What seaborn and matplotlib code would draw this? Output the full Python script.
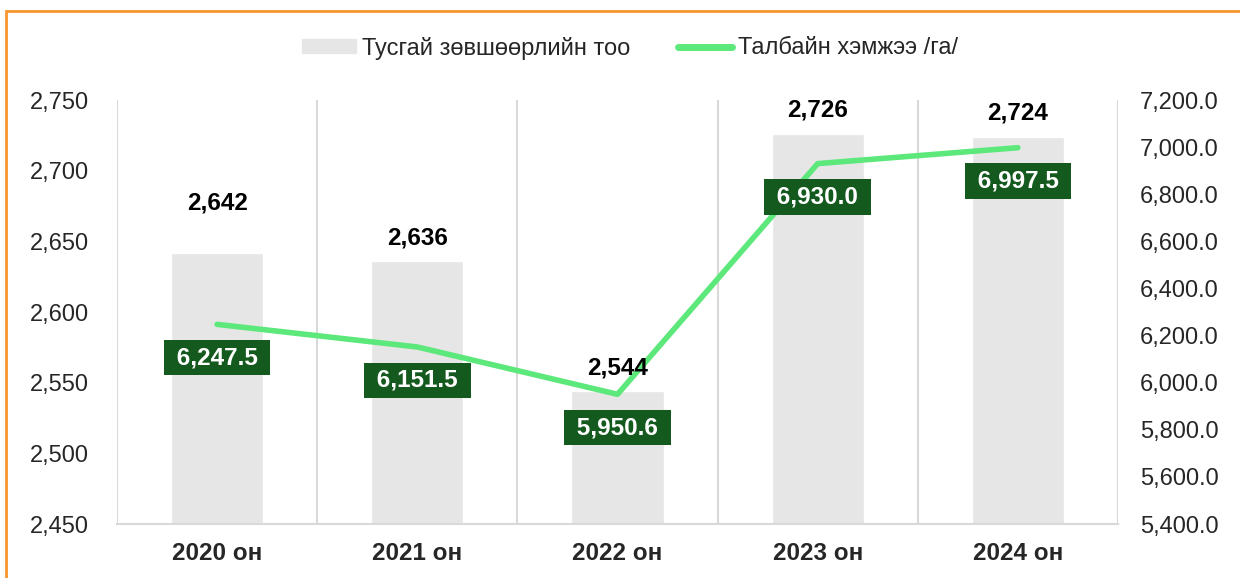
import matplotlib
matplotlib.use("Agg")
import matplotlib.pyplot as plt
import matplotlib.patches as mpatches
from matplotlib.lines import Line2D
from matplotlib.ticker import FuncFormatter
import seaborn as sns
import numpy as np
import pandas as pd

years = ["2020 он", "2021 он", "2022 он", "2023 он", "2024 он"]
permits = [2642, 2636, 2544, 2726, 2724]
area = [6247.5, 6151.5, 5950.6, 6930.0, 6997.5]
bar_name = "Тусгай зөвшөөрлийн тоо"
line_name = "Талбайн хэмжээ /га/"

sns.set_theme(style="white")
plt.rcParams['font.family'] = ['Liberation Sans', 'DejaVu Sans']

FS = 17
FSB = 17.5
bar_color = "#e6e6e6"
line_color = "#5ce87a"
box_color = "#145a1e"
grid_color = "#d9d9d9"

fig = plt.figure(figsize=(12.4, 5.78), dpi=100)
ax = fig.add_axes([117/1240, 1-524/578, (1118-117)/1240, (524-100)/578])

df = pd.DataFrame({"year": years, "permits": permits, "area": area, "pos": np.arange(len(years))})
sns.barplot(data=df, x="year", y="permits", color=bar_color, width=0.46, ax=ax, saturation=1)
ax.set_ylim(2450, 2750)
ax.set_yticks(np.arange(2450, 2751, 50))
ax.yaxis.set_major_formatter(FuncFormatter(lambda v, p: f"{v:,.0f}"))
ax.set_xlim(-0.5, len(years) - 0.5)
ax.set_xlabel("")
ax.set_ylabel("")
for b in np.arange(-0.5, len(years), 1.0):
    ax.axvline(b, color=grid_color, lw=1.5, zorder=0)
for s in ["left", "right", "top"]:
    ax.spines[s].set_visible(False)
ax.spines["bottom"].set_color(grid_color)
ax.spines["bottom"].set_linewidth(1.5)
ax.tick_params(axis="y", labelsize=FS, length=0, pad=20)
ax.tick_params(axis="x", labelsize=FSB, length=0, pad=13)
for t in ax.get_xticklabels():
    t.set_fontweight("bold")

ax2 = ax.twinx()
sns.lineplot(data=df, x="pos", y="area", color=line_color, lw=4, ax=ax2, legend=False)
ax2.set_ylim(5400, 7200)
ax2.set_yticks(np.arange(5400, 7201, 200))
ax2.yaxis.set_major_formatter(FuncFormatter(lambda v, p: f"{v:,.1f}"))
ax2.set_xlim(-0.5, len(years) - 0.5)
ax2.set_xlabel("")
ax2.set_ylabel("")
for s in ["left", "right", "top", "bottom"]:
    ax2.spines[s].set_visible(False)
ax2.tick_params(axis="y", labelsize=FS, length=0, pad=16)

# bar value labels drawn on the top axes (above the line), positioned in bar-axis data coords
for i, (p, v) in enumerate(zip(df["pos"], permits)):
    off = 36 if i == 0 else 17
    ax2.annotate(f"{v:,}", (p, v), xycoords=ax.transData, xytext=(0, off), textcoords="offset points",
                 ha="center", va="center", fontsize=FSB, fontweight="bold", color="black", zorder=5)

for p, v in zip(df["pos"], area):
    ax2.annotate(f" {v:,.1f} ", (p, v), xytext=(0, -24), textcoords="offset points",
                 ha="center", va="center", fontsize=FSB, fontweight="bold", color="white", zorder=6,
                 bbox=dict(boxstyle="square,pad=0.25", fc=box_color, ec="none"))

handles = [mpatches.Patch(color=bar_color, label=bar_name),
           Line2D([0], [0], color=line_color, lw=5, solid_capstyle="round", label=line_name)]
fig.legend(handles=handles, loc="center", bbox_to_anchor=(630/1240, 1-48/578), ncol=2,
           frameon=False, fontsize=FS, handlelength=2.3, handleheight=0.5,
           columnspacing=2.0, handletextpad=0.25)

fig.patches.append(mpatches.Rectangle((6/1240, -0.1), 1.2, 1-11/578+0.1, transform=fig.transFigure,
                                      fill=False, ec="#f7962b", lw=2, figure=fig))

fig.savefig("out.png", dpi=100)
